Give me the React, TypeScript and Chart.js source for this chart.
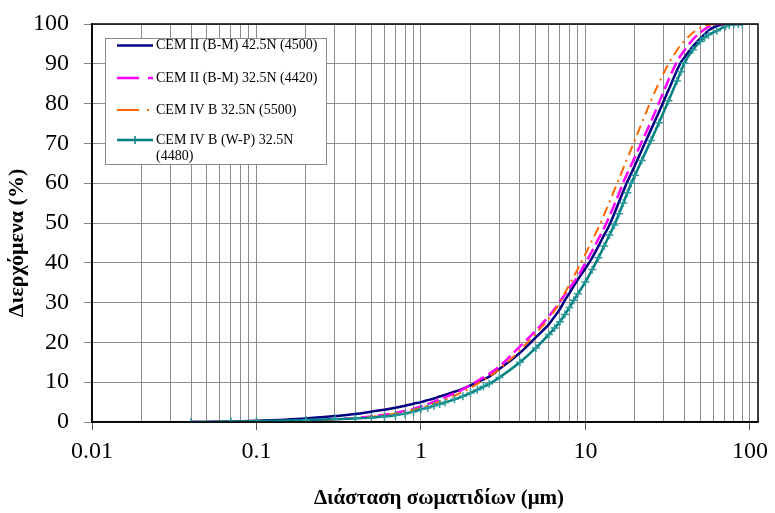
import React, { useEffect, useRef } from "react";
import { Chart, registerables } from "chart.js";

Chart.register(...registerables);

// Particle size classes (μm)
const sizes = [
  0.04, 0.07, 0.1, 0.2, 0.3, 0.4, 0.5, 0.6, 0.7, 0.8, 0.9, 1, 1.1, 1.2, 1.3, 1.4, 1.6, 1.8, 2, 2.2,
  2.4, 2.6, 3, 4, 5, 6, 6.5, 7, 7.5, 8, 8.5, 9, 10, 11, 12, 13, 14, 15, 16, 17,
  18, 19, 20, 22, 25, 28, 32, 36, 38, 40, 45, 50, 53, 56, 63, 71, 75, 80, 85, 90,
];

// Cumulative passing (%)
const cem2bm425 = [
  0, 0.1, 0.3, 0.9, 1.5, 2.0, 2.6, 3.1, 3.6, 4.1, 4.6, 5.0, 5.5, 5.9, 6.4, 6.8, 7.6, 8.4, 9.2, 10.0,
  10.7, 11.4, 13.3, 17.4, 21.3, 24.6, 26.5, 28.4, 30.6, 32.4, 34.2, 35.8, 38.6, 41.3, 44.2, 47.0, 49.5, 52.4, 55.3, 58.0,
  60.4, 62.5, 64.5, 68.3, 73.4, 77.9, 83.4, 88.3, 90.3, 91.6, 94.4, 96.4, 97.4, 98.4, 99.5, 100, 100, 100, 100, 100,
];
const cem2bm325 = [
  0, 0.05, 0.1, 0.4, 0.7, 1.0, 1.4, 1.8, 2.3, 2.8, 3.3, 3.9, 4.5, 5.1, 5.7, 6.2, 7.2, 8.2, 9.3, 10.3,
  11.2, 12.1, 14.0, 19.0, 23.0, 26.6, 28.4, 30.3, 32.0, 33.6, 35.1, 36.6, 40.0, 43.0, 46.0, 48.8, 51.7, 54.6, 57.4, 60.2,
  62.5, 64.6, 66.6, 70.4, 75.4, 80.2, 86.0, 90.5, 92.1, 93.4, 96.1, 97.9, 98.7, 99.3, 100, 100, 100, 100, 100, 100,
];
const cem4b325 = [
  0, 0.05, 0.1, 0.3, 0.6, 0.9, 1.3, 1.7, 2.1, 2.6, 3.1, 3.6, 4.1, 4.6, 5.1, 5.6, 6.6, 7.6, 8.6, 9.6,
  10.5, 11.4, 13.3, 18.0, 22.3, 26.0, 28.0, 30.0, 32.4, 34.6, 36.6, 38.5, 42.2, 45.7, 48.8, 52.1, 55.3, 58.3, 61.1, 63.8,
  66.3, 68.6, 70.9, 75.1, 80.7, 85.2, 90.0, 93.4, 94.7, 95.8, 97.8, 99.0, 99.5, 99.8, 100, 100, 100, 100, 100, 100,
];
const cem4bwp325 = [
  0, 0.1, 0.2, 0.5, 0.7, 0.9, 1.1, 1.4, 1.7, 2.1, 2.6, 3.2, 3.6, 4.1, 4.5, 4.9, 5.7, 6.5, 7.3, 8.1,
  8.9, 9.6, 11.2, 15.0, 18.6, 22.0, 23.6, 25.2, 27.0, 28.8, 30.6, 32.2, 35.2, 38.3, 41.3, 44.2, 47.0, 49.5, 52.3, 55.0,
  57.6, 60.0, 62.0, 65.7, 70.7, 75.2, 80.7, 85.7, 88.0, 90.2, 93.5, 95.6, 96.6, 97.3, 98.3, 99.4, 99.7, 100, 100, 100,
];

const seriesLabels: (string | string[])[] = [
  "CEM II (B-M) 42.5N (4500)",
  "CEM II (B-M) 32.5N (4420)",
  "CEM IV B 32.5N (5500)",
  ["CEM IV B (W-P) 32.5N", "(4480)"],
];
const seriesColors = ["#000080", "#FF00FF", "#FF6600", "#008080"];

const xMajorTicks = [0.01, 0.1, 1, 10, 100];
const xMinorMultipliers = [2, 3, 4, 5, 6, 7, 8, 9];
const yTicks = [0, 10, 20, 30, 40, 50, 60, 70, 80, 90, 100];

const xTitle = "Διάσταση σωματιδίων (μm)";
const yTitle = "Διερχόμενα (%)";

const FONT = "'Times New Roman', 'Liberation Serif', serif";

const legendDashes = [[], [22, 9], [22, 8, 2, 8], []];

const decorPlugin = {
  id: "decor",
  afterDraw(chart: any) {
    const { ctx, chartArea } = chart;
    ctx.save();
    // plot frame
    ctx.strokeStyle = "#000";
    ctx.lineWidth = 1.5;
    ctx.strokeRect(chartArea.left, chartArea.top, chartArea.right - chartArea.left, chartArea.bottom - chartArea.top);

    // axis titles
    ctx.fillStyle = "#000";
    ctx.textAlign = "center";
    ctx.textBaseline = "middle";
    ctx.font = `bold 21px ${FONT}`;
    ctx.fillText(xTitle, 439, 499);

    ctx.save();
    ctx.translate(17, 243);
    ctx.rotate(-Math.PI / 2);
    ctx.font = `bold 22px ${FONT}`;
    ctx.fillText(yTitle, 0, 0);
    ctx.restore();

    // legend
    const lx = chartArea.left + 13;
    const ly = chartArea.top + 14;
    const lw = 221;
    const lh = 126;
    ctx.fillStyle = "#fff";
    ctx.fillRect(lx, ly, lw, lh);
    ctx.strokeStyle = "#8a8a8a";
    ctx.lineWidth = 1;
    ctx.strokeRect(lx + 0.5, ly + 0.5, lw, lh);
    const rows = [7.5, 40, 72, 102];
    chart.data.datasets.forEach((ds: any, i: number) => {
      const y = ly + rows[i];
      ctx.save();
      ctx.strokeStyle = ds.borderColor;
      ctx.lineWidth = ds.borderWidth;
      ctx.setLineDash(legendDashes[i]);
      ctx.beginPath();
      ctx.moveTo(lx + 12, y);
      ctx.lineTo(lx + 48, y);
      ctx.stroke();
      ctx.restore();
      if (ds.pointRadius > 0) {
        ctx.save();
        ctx.strokeStyle = ds.borderColor;
        ctx.lineWidth = 1.5;
        ctx.beginPath();
        ctx.moveTo(lx + 30, y - 4);
        ctx.lineTo(lx + 30, y + 4);
        ctx.moveTo(lx + 26, y);
        ctx.lineTo(lx + 34, y);
        ctx.stroke();
        ctx.restore();
      }
      ctx.fillStyle = "#000";
      ctx.font = `14px ${FONT}`;
      ctx.textAlign = "left";
      ctx.textBaseline = "middle";
      const lab = seriesLabels[i];
      const lines = Array.isArray(lab) ? lab : [lab];
      lines.forEach((t, k) => ctx.fillText(t, lx + 51, y + k * 16.5));
    });
    ctx.restore();
  },
};

export default function App() {
  const ref = useRef<HTMLCanvasElement | null>(null);

  useEffect(() => {
    if (!ref.current) return;
    const series = [cem2bm425, cem2bm325, cem4b325, cem4bwp325];
    const xGrid: number[] = [];
    xMajorTicks.forEach((m, idx) => {
      xGrid.push(m);
      if (idx < xMajorTicks.length - 1) xMinorMultipliers.forEach((k) => xGrid.push(m * k));
    });
    const styles = [
      { borderWidth: 2.5, borderDash: [] as number[], pointRadius: 0, order: 4 },
      { borderWidth: 2.5, borderDash: [12, 5], pointRadius: 0, order: 3 },
      { borderWidth: 2, borderDash: [10, 5, 2, 5], pointRadius: 0, order: 2 },
      { borderWidth: 2.5, borderDash: [] as number[], pointRadius: 4, order: 1 },
    ];
    const chart = new Chart(ref.current, {
      type: "line",
      data: {
        datasets: series.map((vals, i) => ({
          label: Array.isArray(seriesLabels[i]) ? (seriesLabels[i] as string[]).join(" ") : (seriesLabels[i] as string),
          data: sizes.map((s, j) => ({ x: s, y: vals[j] })),
          borderColor: seriesColors[i],
          backgroundColor: seriesColors[i],
          borderWidth: styles[i].borderWidth,
          borderDash: styles[i].borderDash,
          pointRadius: styles[i].pointRadius,
          pointStyle: "cross",
          pointBorderColor: "#2a9a9a",
          pointBorderWidth: 1.5,
          pointHoverRadius: 0,
          cubicInterpolationMode: "monotone",
          fill: false,
          order: styles[i].order,
        })),
      },
      options: {
        animation: false,
        responsive: true,
        maintainAspectRatio: false,
        layout: { padding: { top: 24, right: 17, left: 0, bottom: 0 } },
        plugins: { legend: { display: false }, tooltip: { enabled: false } },
        scales: {
          x: {
            type: "logarithmic",
            min: 0.01,
            max: 112,
            afterBuildTicks: (scale: any) => {
              scale.ticks = xGrid.map((v) => ({ value: v, major: xMajorTicks.includes(v) }));
            },
            afterFit: (scale: any) => {
              scale.height = 91;
              scale.paddingLeft = 0;
              scale.paddingRight = 0;
            },
            ticks: {
              autoSkip: false,
              maxRotation: 0,
              minRotation: 0,
              padding: 7,
              color: "#000",
              font: { family: FONT, size: 24 },
              callback: (v: any) => (xMajorTicks.includes(Number(v)) ? String(v) : ""),
            },
            grid: {
              color: "#8c8c8c",
              lineWidth: 1,
              tickLength: 8,
              tickColor: (c: any) => (c.tick && xMajorTicks.includes(c.tick.value) ? "#555" : "rgba(0,0,0,0)"),
            },
            border: { display: true, color: "#000", width: 1.5 },
            title: { display: false },
          },
          y: {
            type: "linear",
            min: 0,
            max: 100,
            afterBuildTicks: (scale: any) => {
              scale.ticks = yTicks.map((v) => ({ value: v }));
            },
            afterFit: (scale: any) => {
              scale.width = 92;
              scale.paddingTop = 0;
              scale.paddingBottom = 0;
            },
            ticks: {
              padding: 15,
              color: "#000",
              font: { family: FONT, size: 24 },
            },
            grid: { color: "#8c8c8c", lineWidth: 1, tickLength: 8, tickColor: "#808080" },
            border: { display: true, color: "#000", width: 1.5 },
          },
        },
      } as any,
      plugins: [decorPlugin],
    });
    return () => chart.destroy();
  }, []);

  return (
    <div style={{ position: "absolute", left: 0, top: 0, width: 775, height: 513, background: "#fff" }}>
      <canvas ref={ref} />
    </div>
  );
}
